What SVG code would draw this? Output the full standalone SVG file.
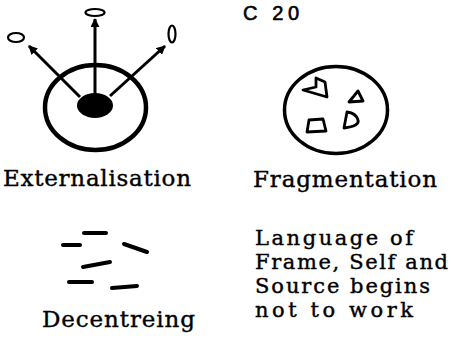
<svg xmlns="http://www.w3.org/2000/svg" width="451" height="339" viewBox="0 0 451 339">
<style>
  .lbl { font-family: "DejaVu Serif", "Liberation Serif", serif; font-size: 23px; fill: #000; stroke: #000; stroke-width: 0.4; }
  .ml { font-size: 21px; }
  .ring { fill: none; stroke: #000; }
  .arr { stroke: #000; stroke-width: 3; fill: none; }
  .tip { fill: none; stroke: #000; stroke-width: 2.2; }
  .frag { fill: none; stroke: #000; stroke-width: 2.8; stroke-linejoin: round; }
  .dash { stroke: #000; stroke-width: 4; stroke-linecap: round; }
</style>
<defs>
  <marker id="ah" viewBox="0 0 10 10" refX="9" refY="5" markerWidth="3" markerHeight="3" orient="auto" markerUnits="strokeWidth">
    <path d="M0,0 L10,5 L0,10 z" fill="#000"/>
  </marker>
</defs>
<rect width="451" height="339" fill="#fff"/>
<text x="243" y="20" font-family="Liberation Sans, Arial, sans-serif" font-size="20" stroke="#000" stroke-width="0.6" textLength="56">C 20</text>

<g id="externalisation">
  <ellipse class="ring" cx="95.5" cy="107.5" rx="50.5" ry="42.5" stroke-width="4.5"/>
  <ellipse cx="95" cy="105.5" rx="18" ry="12.5" fill="#000"/>
  <ellipse class="tip" cx="95" cy="12.5" rx="9.5" ry="3.5"/>
  <ellipse class="tip" cx="16" cy="37.5" rx="8" ry="4.5"/>
  <ellipse class="tip" cx="172" cy="34" rx="3.5" ry="8.5"/>
  <text class="lbl" x="3" y="186" textLength="188">Externalisation</text>
</g>

<g id="connectors">
  <line class="arr" x1="95" y1="94" x2="95" y2="19" marker-end="url(#ah)"/>
  <line class="arr" x1="80" y1="97" x2="29" y2="46" marker-end="url(#ah)"/>
  <line class="arr" x1="110" y1="96" x2="165" y2="46" marker-end="url(#ah)"/>
</g>

<g id="fragmentation">
  <ellipse class="ring" cx="336" cy="110" rx="51.5" ry="43.5" stroke-width="3.5"/>
  <polygon class="frag" points="303,90 316,87 316,78 325,82 327,97"/>
  <polygon class="frag" points="358,91 349,102 363,101"/>
  <polygon class="frag" points="307,132 309,120 323,119 326,131"/>
  <path class="frag" d="M347,112 L344,128 Q360,126 358,120 Q356,113 347,112 z"/>
  <text class="lbl" x="253" y="187" textLength="184">Fragmentation</text>
</g>

<g id="decentreing">
  <line class="dash" x1="84" y1="233" x2="106" y2="233"/>
  <line class="dash" x1="63" y1="245" x2="80" y2="245"/>
  <line class="dash" x1="124" y1="244" x2="147" y2="252"/>
  <line class="dash" x1="83" y1="267" x2="110" y2="262"/>
  <line class="dash" x1="69" y1="282" x2="92" y2="282"/>
  <line class="dash" x1="112" y1="288" x2="137" y2="286"/>
  <text class="lbl" x="42" y="327" textLength="153">Decentreing</text>
</g>

<g id="language">
  <text class="lbl ml" x="255" y="245" textLength="158">Language of</text>
  <text class="lbl ml" x="255" y="269" textLength="193">Frame, Self and</text>
  <text class="lbl ml" x="255" y="293" textLength="175">Source begins</text>
  <text class="lbl ml" x="255" y="317" textLength="158">not to work</text>
</g>
</svg>
